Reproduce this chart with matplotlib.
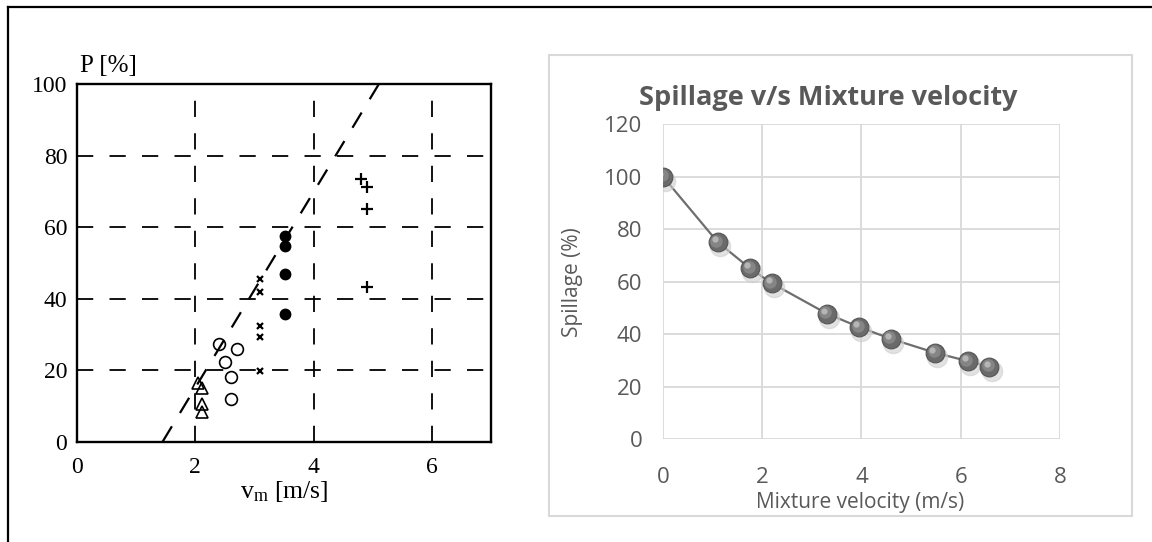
import matplotlib.pyplot as plt
import matplotlib.patches as mpatches
import matplotlib.lines as mlines
from matplotlib.transforms import offset_copy

plt.rcParams["mathtext.fontset"] = "custom"
plt.rcParams["mathtext.rm"] = "Liberation Serif"
plt.rcParams["mathtext.it"] = "Liberation Serif"

# left panel: scanned measurements
tri_x = [2.05, 2.11, 2.11, 2.11]
tri_y = [16.5, 14.9, 10.5, 8.2]
ocirc_x = [2.40, 2.51, 2.71, 2.60, 2.60]
ocirc_y = [27.3, 22.4, 25.8, 18.0, 11.9]
cross_x = [3.10, 3.10, 3.10, 3.10, 3.10]
cross_y = [45.4, 41.8, 32.3, 29.3, 19.7]
fcirc_x = [3.51, 3.51, 3.51, 3.51]
fcirc_y = [57.6, 54.8, 46.9, 35.6]
plus_x = [4.80, 4.90, 4.90, 4.90]
plus_y = [73.5, 71.2, 65.1, 43.2]
fit_x = [1.45, 5.10]
fit_y = [0, 100]

# right panel: spillage vs mixture velocity
velocity = [0.0, 1.10, 1.75, 2.19, 3.30, 3.95, 4.59, 5.48, 6.14, 6.58]
spillage = [100.0, 75.1, 65.1, 59.4, 47.8, 42.7, 38.2, 32.9, 29.7, 27.5]

fig = plt.figure(figsize=(11.52, 5.42), dpi=100)

# black frame (top and left edges visible)
fig.add_artist(mlines.Line2D([0.0069, 1.0], [0.987, 0.987], color="black", lw=1.6, transform=fig.transFigure))
fig.add_artist(mlines.Line2D([0.0069, 0.0069], [0.0, 0.987], color="black", lw=1.6, transform=fig.transFigure))

# ---- left chart
serif = "Liberation Serif"
ax1 = fig.add_axes([0.0668, 0.1854, 0.3594, 0.6587])
ax1.set_xlim(0, 7)
ax1.set_ylim(0, 100)
ax1.set_xticks([0, 2, 4, 6])
ax1.set_yticks([0, 20, 40, 60, 80, 100])
for v in [2, 4, 6]:
    ax1.axvline(v, color="black", lw=1.3, dashes=(9, 9), zorder=1)
for v in [20, 40, 60, 80]:
    ax1.axhline(v, color="black", lw=1.3, dashes=(9, 9), zorder=1)
ax1.plot(fit_x, fit_y, color="black", lw=1.6, dashes=(8, 7), zorder=2)
ax1.plot(tri_x, tri_y, "^", ms=8, mfc="none", mec="black", mew=1.2, zorder=3)
ax1.plot(ocirc_x, ocirc_y, "o", ms=8.5, mfc="none", mec="black", mew=1.2, zorder=3)
ax1.plot(cross_x, cross_y, "x", ms=5, mec="black", mew=1.6, zorder=3)
ax1.plot(fcirc_x, fcirc_y, "o", ms=7.5, color="black", zorder=3)
ax1.plot(plus_x, plus_y, "+", ms=8, mec="black", mew=1.6, zorder=3)
for s in ax1.spines.values():
    s.set_linewidth(1.7)
ax1.tick_params(length=0, labelsize=17, pad=7)
ax1.tick_params(axis="x", pad=11)
for lab in ax1.get_xticklabels() + ax1.get_yticklabels():
    lab.set_fontfamily(serif)
fig.text(0.0695, 0.878, "P [%]", fontsize=18, family=serif, ha="left", va="center")
fig.text(0.247, 0.094, r"v$_\mathrm{m}$ [m/s]", fontsize=18.5, family=serif, ha="center", va="center")

# ---- right chart
grey = "#595959"
fig.add_artist(mpatches.Rectangle((0.4766, 0.048), 0.506, 0.8506, transform=fig.transFigure,
                                  fill=False, edgecolor="#d9d9d9", lw=1.5))
ax2 = fig.add_axes([0.5755, 0.190, 0.3446, 0.581])
ax2.set_xlim(0, 8)
ax2.set_ylim(0, 120)
ax2.set_xticks([0, 2, 4, 6, 8])
ax2.set_yticks([0, 20, 40, 60, 80, 100, 120])
ax2.grid(True, color="#d9d9d9", lw=1.3)
ax2.set_axisbelow(True)
for s in ax2.spines.values():
    s.set_visible(False)
ax2.tick_params(length=0, labelsize=16, colors=grey, pad=15)
ax2.tick_params(axis="x", pad=20)
for lab in ax2.get_xticklabels() + ax2.get_yticklabels():
    lab.set_fontfamily("Open Sans")

ax2.plot(velocity, spillage, color="#6e6e6e", lw=1.6, zorder=2)
shadow = offset_copy(ax2.transData, fig=fig, x=1.5, y=-3, units="points")
ax2.plot(velocity, spillage, "o", ms=14.5, color="#cfcfcf", alpha=0.6, transform=shadow, zorder=3)
ax2.plot(velocity, spillage, "o", ms=13.5, mfc="#6a6a6a", mec="#555555", mew=0.8, zorder=4)
hl1 = offset_copy(ax2.transData, fig=fig, x=-0.9, y=1.0, units="points")
ax2.plot(velocity, spillage, "o", ms=9, color="#858585", mew=0, transform=hl1, zorder=5)
hl2 = offset_copy(ax2.transData, fig=fig, x=-1.8, y=2.0, units="points")
ax2.plot(velocity, spillage, "o", ms=4.5, color="#b5b5b5", mew=0, transform=hl2, zorder=6)

fig.text(0.719, 0.819, "Spillage v/s Mixture velocity", fontsize=19.5, fontweight="bold",
         family="Open Sans", color=grey, ha="center", va="center")
fig.text(0.747, 0.072, "Mixture velocity (m/s)", fontsize=15, family="Open Sans", color=grey,
         ha="center", va="center")
fig.text(0.497, 0.48, "Spillage (%)", fontsize=15, family="Open Sans", color=grey,
         ha="center", va="center", rotation=90)

fig.savefig("out.png", dpi=100)
